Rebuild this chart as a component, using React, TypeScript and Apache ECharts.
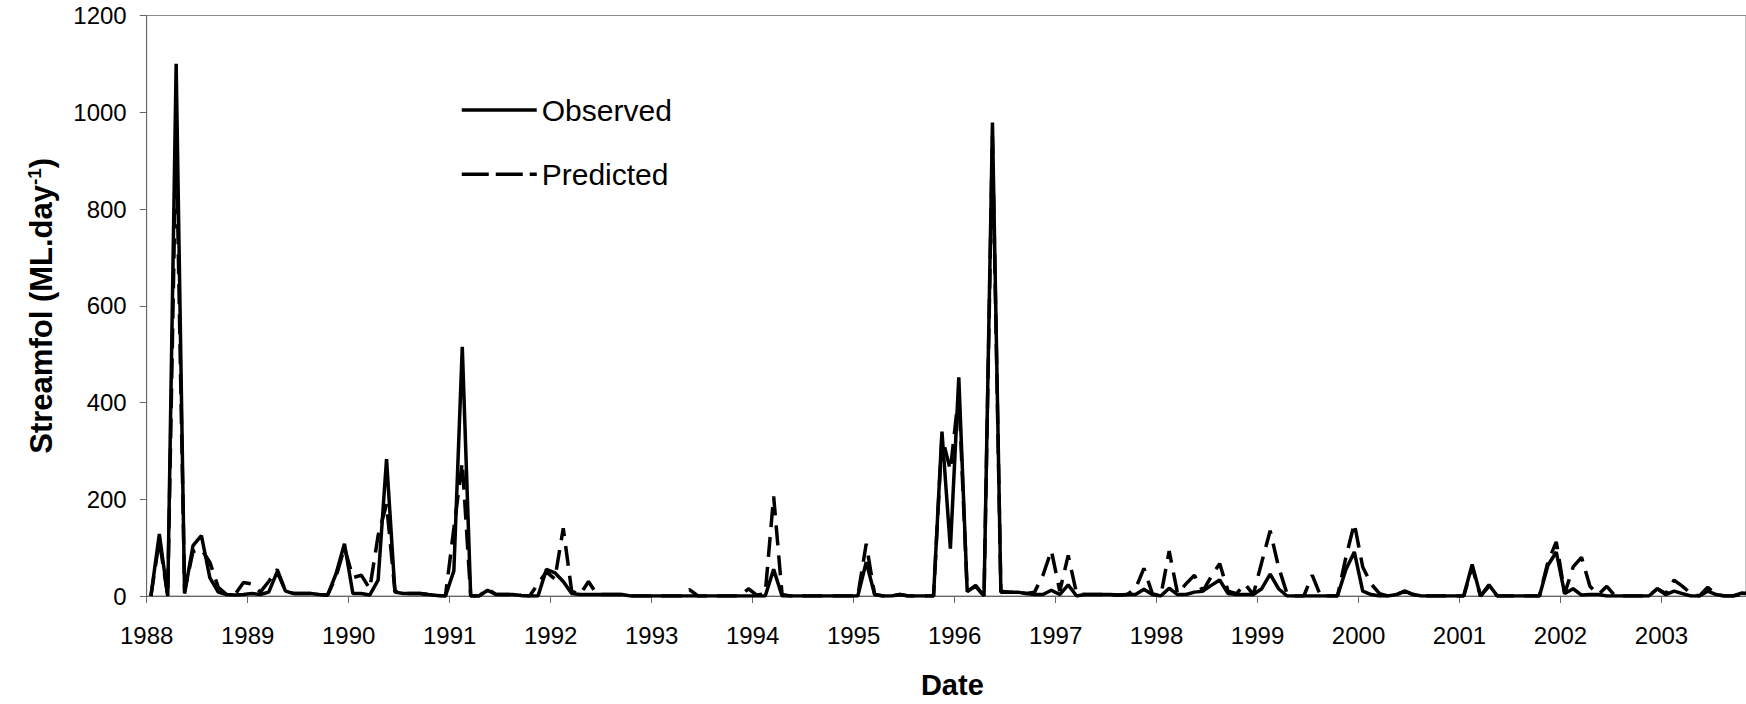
import React, { useEffect, useRef } from 'react';
import * as echarts from 'echarts';

const FONT = '"Liberation Sans", Arial, Helvetica, sans-serif';

const START_YEAR = 1988;
const yearTicks = [1988, 1989, 1990, 1991, 1992, 1993, 1994, 1995, 1996, 1997, 1998, 1999, 2000, 2001, 2002, 2003];
const seriesNames = ['Observed', 'Predicted'];

// Monthly streamflow (ML/day), Jan 1988 .. Dec 2003, one row per year
const observed = [
  0, 128, 0, 1100, 5, 104, 125, 38, 8, 3, 2, 3, // 1988
  5, 3, 8, 50, 10, 5, 5, 5, 3, 2, 46, 108, // 1989
  5, 5, 2, 33, 283, 8, 5, 5, 5, 3, 1, 0, // 1990
  52, 515, 0, 0, 12, 3, 3, 3, 1, 0, 0, 55, // 1991
  48, 30, 5, 3, 3, 3, 3, 3, 3, 0, 0, 0, // 1992
  0, 0, 0, 0, 0, 0, 0, 0, 0, 0, 0, 0, // 1993
  0, 0, 55, 0, 0, 0, 0, 0, 0, 0, 0, 0, // 1994
  0, 70, 3, 0, 0, 3, 0, 0, 0, 0, 340, 98, // 1995
  452, 9, 22, 0, 979, 10, 8, 8, 5, 3, 3, 12, // 1996
  3, 23, 0, 3, 3, 3, 3, 2, 3, 3, 14, 3, // 1997
  0, 16, 3, 3, 8, 10, 22, 33, 5, 3, 3, 3, // 1998
  15, 45, 15, 0, 0, 0, 0, 0, 0, 0, 55, 91, // 1999
  10, 3, 0, 0, 3, 10, 3, 0, 0, 0, 0, 0, // 2000
  0, 65, 0, 23, 0, 0, 0, 0, 0, 0, 63, 91, // 2001
  5, 15, 2, 3, 3, 0, 0, 0, 0, 0, 0, 15, // 2002
  3, 10, 5, 0, 0, 10, 3, 0, 0, 6, 5, 5, // 2003
];

const predicted = [
  0, 115, 0, 950, 10, 92, 97, 70, 18, 3, 3, 28, // 1988
  25, 8, 30, 55, 10, 5, 5, 5, 3, 2, 40, 100, // 1989
  38, 43, 15, 125, 190, 10, 5, 5, 5, 3, 1, 0, // 1990
  140, 276, 0, 0, 15, 3, 3, 3, 1, 0, 25, 50, // 1991
  35, 140, 10, 3, 30, 3, 3, 3, 3, 0, 0, 0, // 1992
  0, 0, 0, 0, 13, 0, 0, 0, 0, 0, 0, 15, // 1993
  2, 5, 206, 3, 0, 0, 0, 0, 0, 0, 0, 0, // 1994
  0, 108, 3, 0, 0, 3, 0, 0, 0, 0, 330, 260, // 1995
  420, 10, 20, 0, 950, 8, 8, 8, 5, 8, 43, 94, // 1996
  10, 84, 5, 3, 3, 3, 3, 2, 3, 15, 57, 5, // 1997
  0, 93, 5, 25, 43, 10, 40, 67, 10, 5, 25, 3, // 1998
  70, 135, 60, 5, 0, 0, 43, 0, 0, 0, 80, 150, // 1999
  60, 25, 5, 0, 3, 10, 3, 0, 0, 0, 0, 0, // 2000
  0, 60, 0, 20, 0, 0, 0, 0, 0, 0, 70, 112, // 2001
  5, 60, 80, 20, 3, 20, 0, 0, 0, 0, 0, 15, // 2002
  5, 33, 20, 5, 0, 18, 3, 0, 0, 3, 6, 5, // 2003
];

const yTickValues = [0, 200, 400, 600, 800, 1000, 1200];

function toPoints(vals: number[]) {
  return vals.map((v, i) => [START_YEAR + (i + 0.5) / 12, v]);
}

export default function App() {
  const ref = useRef<HTMLDivElement>(null);
  useEffect(() => {
    document.body.style.margin = '0';
    if (!ref.current) return;
    const chart = echarts.init(ref.current, undefined, { renderer: 'svg' });
    const isYear = (v: number) => yearTicks.some((y) => Math.abs(y - v) < 1e-6);
    chart.setOption({
      animation: false,
      backgroundColor: '#ffffff',
      grid: {
        left: 146.7,
        top: 15.5,
        right: -2,
        bottom: 106.7,
        show: true,
        borderColor: '#8a8a8a',
        borderWidth: 1,
        backgroundColor: 'transparent',
      },
      legend: {
        orient: 'vertical',
        left: 460,
        top: 95,
        padding: 0,
        itemGap: 34.3,
        itemWidth: 75,
        itemHeight: 14,
        selectedMode: false,
        textStyle: { fontSize: 30, fontFamily: FONT, color: '#000', lineHeight: 30 },
        lineStyle: { width: 3.5 },
        itemStyle: { opacity: 0 },
        data: [
          { name: seriesNames[0], itemStyle: { opacity: 0 }, lineStyle: { type: 'solid', width: 3.5, color: '#000' } },
          { name: seriesNames[1], itemStyle: { opacity: 0 }, lineStyle: { type: [27, 7], width: 3.5, color: '#000' } },
        ],
      },
      xAxis: {
        type: 'value',
        min: yearTicks[0],
        max: 2003.837,
        interval: 1,
        name: 'Date',
        nameLocation: 'middle',
        nameGap: 74,
        nameTextStyle: { fontSize: 29, fontWeight: 'bold', fontFamily: FONT, color: '#000', padding: [0, 0, 0, 12] },
        axisLine: { lineStyle: { color: '#666', width: 1 } },
        axisTick: { length: 7, lineStyle: { color: '#666', width: 1 } },
        axisLabel: {
          formatter: (v: number) => (isYear(v) ? String(Math.round(v)) : ''),
          margin: 27,
          fontSize: 24,
          color: '#000',
          fontFamily: FONT,
          showMaxLabel: false,
        },
        splitLine: { show: false },
      },
      yAxis: {
        type: 'value',
        min: yTickValues[0],
        max: yTickValues[yTickValues.length - 1],
        interval: 200,
        name: '{a|Streamfol (ML.day}{b|-1}{a|)}',
        nameLocation: 'middle',
        nameRotate: 90,
        nameGap: 88,
        nameTextStyle: {
          color: '#000',
          rich: {
            a: { fontSize: 31, fontWeight: 'bold', fontFamily: FONT, color: '#000', lineHeight: 34 },
            b: { fontSize: 19, fontWeight: 'bold', fontFamily: FONT, color: '#000', lineHeight: 34, verticalAlign: 'top' },
          },
        },
        axisLine: { show: true, lineStyle: { color: '#666', width: 1 } },
        axisTick: { show: true, length: 7, lineStyle: { color: '#666', width: 1 } },
        axisLabel: {
          margin: 20,
          fontSize: 24,
          color: '#000',
          fontFamily: FONT,
          formatter: (v: number) => String(v),
        },
        splitLine: { show: false },
      },
      series: [
        {
          name: seriesNames[0],
          type: 'line',
          symbol: 'none',
          showSymbol: false,
          data: toPoints(observed),
          lineStyle: { color: '#000', width: 3.5, type: 'solid' },
          itemStyle: { color: '#000' },
          clip: true,
        },
        {
          name: seriesNames[1],
          type: 'line',
          symbol: 'none',
          showSymbol: false,
          data: toPoints(predicted),
          lineStyle: { color: '#000', width: 3.5, type: [20, 10] },
          itemStyle: { color: '#000' },
          clip: true,
        },
      ],
    });
    return () => chart.dispose();
  }, []);
  return <div ref={ref} style={{ position: 'absolute', left: 0, top: 0, width: 1746, height: 704 }} />;
}
